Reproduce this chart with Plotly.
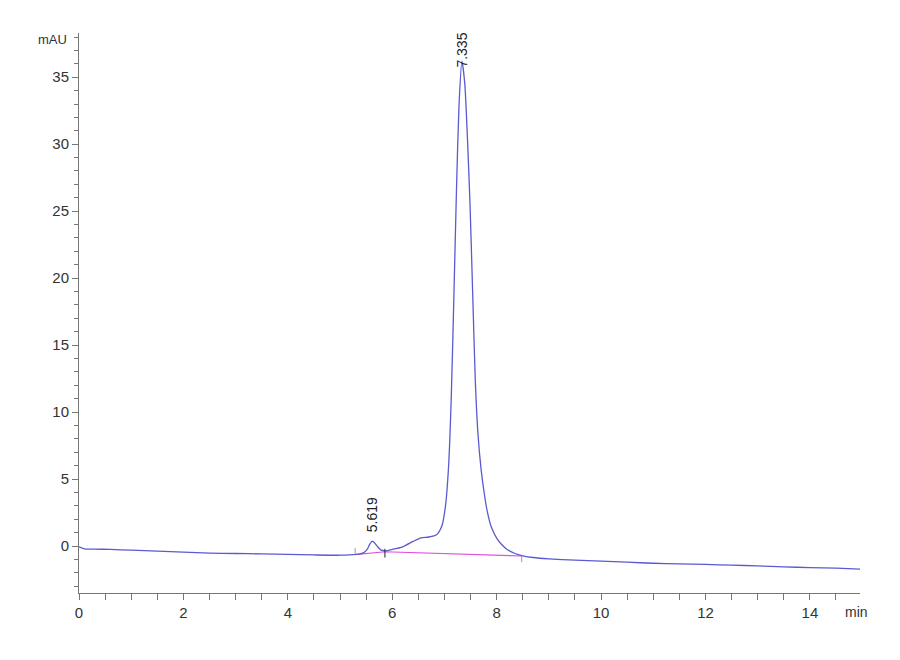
import plotly.graph_objects as go

# Chromatogram trace (time in min, signal in mAU)
time_min = [0.00, 0.10, 0.30, 0.60, 1.00, 1.50, 2.00, 2.50, 3.00, 3.50, 4.00, 4.50,
            5.00, 5.30, 5.45, 5.52, 5.57, 5.62, 5.67, 5.72, 5.78, 5.86, 6.00, 6.20,
            6.40, 6.55, 6.70, 6.85, 6.95, 7.02, 7.08, 7.13, 7.18, 7.23, 7.28, 7.335,
            7.39, 7.44, 7.49, 7.54, 7.59, 7.64, 7.70, 7.76, 7.82, 7.90, 8.00, 8.10,
            8.20, 8.35, 8.50, 8.70, 9.00, 9.50, 10.00, 10.50, 11.00, 11.50, 12.00,
            12.50, 13.00, 13.50, 14.00, 14.50, 14.96]
signal_mau = [-0.05, -0.20, -0.22, -0.25, -0.30, -0.38, -0.45, -0.52, -0.55, -0.58, -0.62, -0.66,
              -0.68, -0.62, -0.50, -0.25, 0.15, 0.37, 0.20, -0.05, -0.28, -0.35, -0.25, -0.05,
              0.35, 0.62, 0.68, 0.85, 1.5, 3.0, 6.0, 11.0, 18.5, 26.5, 33.0, 36.2,
              34.5, 30.5, 25.5, 19.0, 12.5, 8.5, 5.8, 4.0, 2.6, 1.4, 0.6, 0.1,
              -0.25, -0.55, -0.72, -0.85, -0.95, -1.05, -1.12, -1.20, -1.28, -1.33, -1.37,
              -1.42, -1.48, -1.55, -1.60, -1.65, -1.72]

# Integration baseline
baseline_t = [5.29, 5.86, 8.48]
baseline_v = [-0.64, -0.42, -0.74]

# Peak labels
peak_rt = [5.619, 7.335]
peak_h = [0.37, 36.2]
peak_labels = ["5.619", "7.335"]

# Integration event marks
event_t = [5.29, 5.86, 8.48]
event_lo = [-0.55, -0.85, -1.20]
event_hi = [-0.15, -0.20, -0.75]
event_col = ["#999999", "#222222", "#999999"]

# Axis ticks
x_ticks = [0, 2, 4, 6, 8, 10, 12, 14]
y_ticks = [0, 5, 10, 15, 20, 25, 30, 35]

FONT = "Liberation Sans Narrow, Liberation Sans, Arial"

fig = go.Figure()
fig.add_trace(go.Scatter(x=baseline_t, y=baseline_v, mode="lines",
                         line=dict(color="#e050d8", width=1.2), hoverinfo="skip"))
fig.add_trace(go.Scatter(x=time_min, y=signal_mau, mode="lines",
                         line=dict(color="#5a5ad2", width=1.3, shape="spline", smoothing=0.6),
                         hoverinfo="skip"))
for t, lo, hi, c in zip(event_t, event_lo, event_hi, event_col):
    fig.add_trace(go.Scatter(x=[t, t], y=[lo, hi], mode="lines",
                             line=dict(color=c, width=1), hoverinfo="skip"))

offsets = [0.5, -0.6]
for rt, h, lab, off in zip(peak_rt, peak_h, peak_labels, offsets):
    fig.add_annotation(x=rt, y=h + off, text=lab, textangle=-90, showarrow=False,
                       xanchor="center", yanchor="bottom",
                       font=dict(family="Liberation Sans, Arial", size=14, color="#222"))

fig.add_annotation(xref="paper", yref="paper", x=-0.013, y=0.988, text="mAU",
                   showarrow=False, xanchor="right", yanchor="middle",
                   font=dict(family=FONT, size=13, color="#333"))
fig.add_annotation(xref="paper", yref="paper", x=0.978, y=-0.016, text="min",
                   showarrow=False, xanchor="left", yanchor="top",
                   font=dict(family=FONT, size=14, color="#333"))

axis_common = dict(showgrid=False, zeroline=False, showline=True, linecolor="#777",
                   linewidth=1, ticks="outside", tickcolor="#777", ticklen=6,
                   tickfont=dict(family=FONT, size=15, color="#333"))
fig.update_xaxes(range=[0, 14.96], tickvals=x_ticks,
                 minor=dict(dtick=0.5, ticks="outside", ticklen=6, tickcolor="#777"),
                 **axis_common)
fig.update_yaxes(range=[-3.5, 38.3], tickvals=y_ticks,
                 minor=dict(dtick=1, ticks="outside", ticklen=4, tickcolor="#777"),
                 **axis_common)

fig.update_layout(width=900, height=660, showlegend=False,
                  plot_bgcolor="white", paper_bgcolor="white",
                  margin=dict(l=71, r=48, t=25, b=75))
fig.write_html("out.html")
